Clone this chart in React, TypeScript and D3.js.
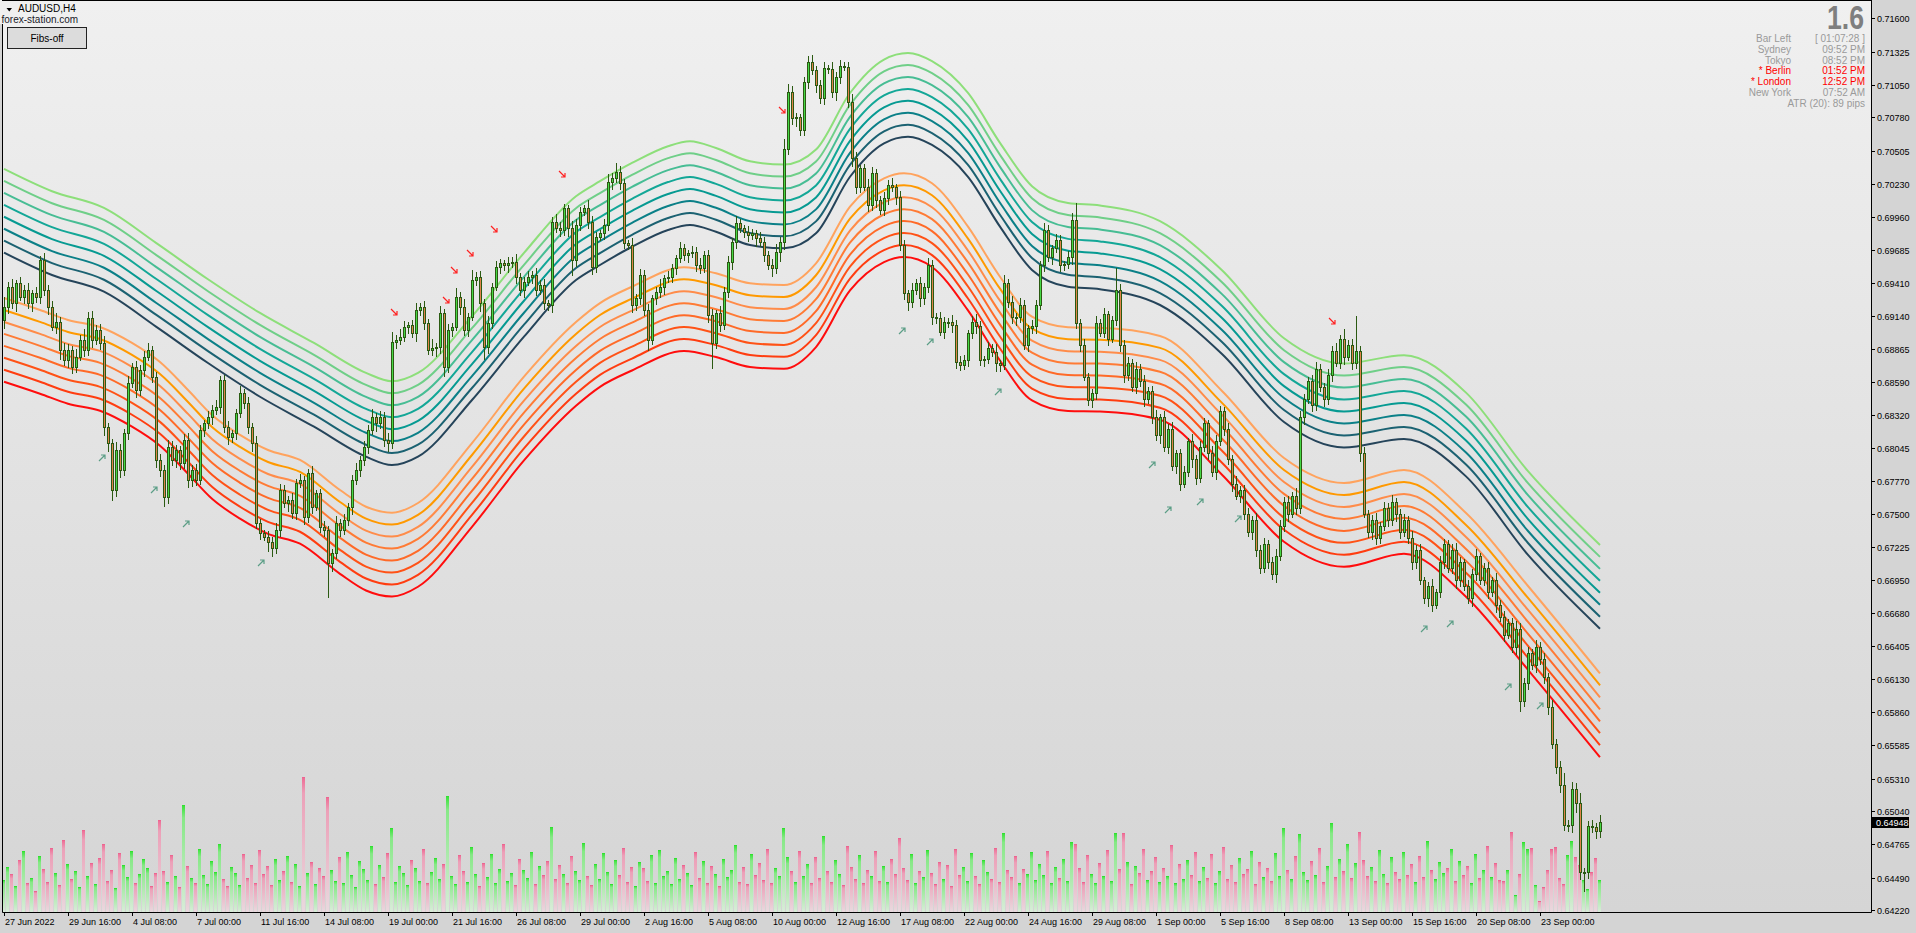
import React from "react";
import * as d3 from "d3";

// ---------------- DATA ----------------
const firstOpen = 0.691;
const closes = [
  0.69214, 0.69379, 0.69241, 0.69407, 0.69296, 0.69352, 0.69241, 0.69324, 0.69296, 0.696,
  0.69352, 0.69214, 0.69048, 0.6909, 0.68855, 0.68772, 0.68855, 0.68717, 0.688, 0.68938,
  0.68855, 0.69117, 0.68938, 0.69021, 0.6891, 0.68221, 0.68083, 0.67697, 0.68028, 0.67862,
  0.68166, 0.68579, 0.68717, 0.68524, 0.6869, 0.688, 0.68855, 0.68635, 0.67945, 0.67862,
  0.67642, 0.68055, 0.67945, 0.68028, 0.67917, 0.68111, 0.6778, 0.67862, 0.6778, 0.68193,
  0.68248, 0.68304, 0.68359, 0.68386, 0.68607, 0.68221, 0.68138, 0.68166, 0.68331, 0.68497,
  0.68414, 0.68221, 0.68083, 0.67421, 0.67338, 0.67311, 0.67269, 0.67214, 0.67366, 0.67697,
  0.67587, 0.67614, 0.67504, 0.67752, 0.6778, 0.67476, 0.67835, 0.67559, 0.67669, 0.67393,
  0.67366, 0.6709, 0.67173, 0.67421, 0.67366, 0.67449, 0.67559, 0.6778, 0.67862, 0.67945,
  0.68055, 0.68193, 0.68304, 0.68248, 0.68304, 0.68111, 0.68083, 0.68924, 0.68938, 0.68966,
  0.69048, 0.6906, 0.68993, 0.69186, 0.69214, 0.69076, 0.68855, 0.6887, 0.68883, 0.69159,
  0.68717, 0.69021, 0.69048, 0.69296, 0.69214, 0.69021, 0.69131, 0.69434, 0.69462, 0.69241,
  0.68883, 0.69076, 0.69379, 0.69545, 0.69572, 0.69559, 0.69572, 0.69586, 0.69462, 0.69352,
  0.69421, 0.69462, 0.69476, 0.69352, 0.69393, 0.69241, 0.69228, 0.69917, 0.69862, 0.69848,
  0.70027, 0.69862, 0.696, 0.69889, 0.7, 0.70027, 0.69917, 0.69545, 0.69793, 0.6982,
  0.69889, 0.70248, 0.70276, 0.70331, 0.70234, 0.69738, 0.69724, 0.69228, 0.69283, 0.69476,
  0.69186, 0.68938, 0.69283, 0.69338, 0.69379, 0.69448, 0.69462, 0.69531, 0.69614, 0.69696,
  0.69641, 0.69655, 0.69669, 0.69559, 0.69531, 0.69641, 0.69145, 0.6891, 0.69159, 0.69062,
  0.69338, 0.69586, 0.69752, 0.69903, 0.69862, 0.69834, 0.69807, 0.6982, 0.69779, 0.69752,
  0.69641, 0.69559, 0.69531, 0.69669, 0.69752, 0.70519, 0.70993, 0.70772, 0.7078, 0.70676,
  0.71076, 0.71235, 0.71172, 0.71048, 0.70938, 0.71186, 0.7118, 0.70987, 0.71117, 0.71205,
  0.712, 0.7091, 0.70441, 0.70207, 0.70358, 0.70207, 0.70055, 0.70317, 0.70096, 0.70014,
  0.7011, 0.70221, 0.70201, 0.70124, 0.69724, 0.69324, 0.69255, 0.69352, 0.69407, 0.69283,
  0.69379, 0.69559, 0.69131, 0.69117, 0.69007, 0.6909, 0.69085, 0.69062, 0.68759, 0.68731,
  0.68773, 0.68993, 0.6909, 0.69054, 0.68773, 0.68778, 0.68869, 0.68842, 0.68745, 0.68731,
  0.69407, 0.69255, 0.69131, 0.69125, 0.69228, 0.68897, 0.69035, 0.69054, 0.69228, 0.69559,
  0.69848, 0.69628, 0.69697, 0.69765, 0.69559, 0.69565, 0.69628, 0.69931, 0.69076, 0.68897,
  0.68635, 0.68442, 0.68497, 0.69076, 0.69, 0.6915, 0.6895, 0.691, 0.6935, 0.689,
  0.6865, 0.6875, 0.6855, 0.687, 0.686, 0.6845, 0.6852, 0.683, 0.6815, 0.683,
  0.6805, 0.682, 0.679, 0.68, 0.6775, 0.6785, 0.681, 0.6795, 0.678, 0.6805,
  0.6825, 0.68, 0.6785, 0.681, 0.6835, 0.682, 0.6795, 0.6775, 0.6765, 0.677,
  0.675, 0.6735, 0.6745, 0.672, 0.6705, 0.6725, 0.671, 0.67, 0.6715, 0.674,
  0.676, 0.675, 0.6765, 0.6755, 0.683, 0.6845, 0.686, 0.684, 0.687, 0.6855,
  0.6845, 0.6865, 0.6885, 0.6875, 0.6895, 0.688, 0.689, 0.6875, 0.6885, 0.68,
  0.675, 0.6735, 0.6745, 0.673, 0.674, 0.6755, 0.6745, 0.676, 0.675, 0.6735,
  0.6745, 0.673, 0.671, 0.672, 0.6695, 0.668, 0.669, 0.6675, 0.6685, 0.671,
  0.6725, 0.6705, 0.672, 0.6695, 0.671, 0.669, 0.668, 0.67, 0.6715, 0.6695,
  0.6705, 0.6685, 0.6695, 0.6675, 0.6665, 0.665, 0.666, 0.664, 0.6655, 0.6595,
  0.661, 0.6635, 0.6625, 0.664, 0.663, 0.6615, 0.659, 0.656, 0.65403, 0.65257,
  0.64926, 0.64926, 0.65221, 0.65111, 0.6454, 0.6454, 0.64918, 0.6491, 0.64879, 0.64948,
];
// wick lengths in pips (0.0001)
const upWick = [
  8,4,6,3,5,4,6,3,5,3, 6,4,5,7,4,6,5,3,6,4,
  9,5,6,4,5,6,3,4,7,5, 4,6,3,5,4,5,6,3,4,5,
  4,6,5,4,3,5,6,4,5,4, 3,5,4,6,3,4,5,3,4,6,
  4,5,3,6,4,3,5,4,6,5, 4,3,6,4,5,3,4,6,3,4,
  5,3,4,6,4,5,3,4,6,3, 5,4,6,3,5,4,6,8,4,6,
  5,3,4,6,3,5,4,8,3,6, 4,5,3,7,4,6,3,8,4,5,
  4,6,3,5,4,3,5,4,6,3, 4,5,3,6,4,5,3,4,6,5,
  4,3,6,5,4,3,7,5,4,3, 5,6,4,7,5,4,3,6,4,5,
  4,5,3,4,6,3,5,4,3,5, 4,3,5,4,6,3,4,5,3,6,
  4,5,3,6,4,3,5,4,3,5, 4,3,5,6,4,8,6,5,4,3,
  4,5,6,3,4,5,3,6,4,5, 3,4,6,5,3,4,6,5,4,3,
  5,4,6,3,5,4,3,6,4,5, 3,6,4,3,5,4,3,6,4,5,
  4,3,5,6,4,3,5,4,6,3, 7,4,5,3,6,4,3,5,4,3,
  6,4,3,5,4,3,5,6,14,4, 5,3,4,6,4,5,3,4,18,5,
  4,5,3,6,4,5,3,4,6,3, 5,4,6,3,4,5,3,6,4,5,
  4,3,6,5,4,3,5,4,6,3, 4,5,3,6,4,5,3,4,6,5,
  4,5,3,6,5,4,3,5,6,4, 3,5,4,6,3,8,4,5,29,4,
  5,3,4,6,3,5,4,6,3,4, 5,3,6,4,5,3,4,6,3,5,
  4,3,5,6,4,3,5,4,6,3, 4,5,3,6,4,5,3,4,6,5,
  4,5,3,6,4,5,3,6,4,5, 10,4,6,5,8,3,4,5,3,6,
];
const dnWick = [
  6,5,4,6,3,5,4,6,4,5, 4,6,3,5,7,4,6,5,4,3,
  5,4,6,3,5,7,6,8,5,6, 4,5,3,6,4,5,3,4,6,5,
  8,5,4,6,5,4,6,5,4,3, 5,4,6,3,5,4,6,4,5,3,
  4,5,6,4,5,3,8,6,4,5, 3,6,4,5,3,6,4,5,3,4,
  5,28,6,4,5,3,4,6,3,5, 4,5,3,6,4,5,6,4,5,3,
  4,5,3,6,4,5,3,4,6,5, 8,4,5,3,6,4,5,3,4,6,
  10,5,4,3,5,4,6,3,5,4, 6,3,5,4,3,5,4,6,3,5,
  4,6,12,5,4,3,5,6,4,3, 5,4,6,3,5,4,3,6,4,5,
  4,8,3,5,4,6,3,4,5,3, 4,6,3,5,4,3,6,20,4,5,
  3,4,6,5,3,4,5,3,6,4, 5,3,6,4,8,6,4,5,6,4,
  4,5,3,6,4,5,3,4,6,5, 3,4,6,5,4,3,5,4,6,3,
  4,5,3,6,4,5,7,4,3,6, 5,4,6,4,3,5,4,6,5,4,
  3,5,4,6,4,5,3,4,6,5, 3,4,5,6,4,3,5,4,6,3,
  5,4,6,3,5,4,3,6,4,5, 3,4,6,5,3,4,5,3,4,5,
  6,4,3,5,4,6,3,5,4,6, 3,5,4,6,5,3,4,6,5,4,
  3,5,4,6,3,5,4,6,3,5, 4,3,6,5,4,3,5,4,6,3,
  4,6,3,5,4,6,3,5,4,3, 6,4,5,3,4,6,3,5,4,6,
  3,4,6,5,4,3,5,4,6,5, 3,4,6,5,3,4,6,5,3,4,
  5,3,4,6,5,3,4,6,5,3, 4,5,3,6,4,5,3,4,6,8,
  4,5,3,6,4,5,6,4,5,6, 4,5,6,8,6,16,5,4,6,5,
];
const volumes = [
  3200,4500,3800,2600,5200,6100,2900,3400,2100,5600, 4300,3000,6400,3900,2700,7200,4800,3300,4100,2500,
  8200,3600,4900,2800,5400,6800,3100,4200,2400,5900, 4700,3500,6100,2900,3800,5300,4400,2600,3900,9200,
  4100,3000,5700,3600,2500,10700,4600,3400,2900,6300, 3700,2800,5100,4000,6800,3300,2600,4500,3900,2700,
  5800,3400,4700,2900,6200,3800,4600,2700,5300,3200, 4100,5600,3000,4800,2600,13500,3900,5000,2800,4400,
  3600,11500,4200,3100,5500,2900,6000,3700,2500,5100, 4300,3200,6600,2800,4700,3500,5900,8400,3000,4600,
  3900,2700,5200,4400,3100,6300,2900,4000,5400,3300, 4800,11600,3600,2800,5700,4100,3000,6500,3800,2600,
  4900,3500,5800,2900,4300,6800,3100,3900,2700,5300, 4200,3400,6000,2800,4600,3700,5100,8500,3300,4700,
  3800,2900,5600,4100,3200,6900,3600,2700,4800,3300, 5900,4000,2800,5200,3700,6400,3000,4500,2600,5000,
  4400,3100,5700,2900,6200,3600,4100,2800,5400,3300, 4700,3900,2700,6000,3400,5100,2900,4600,3800,2600,
  5300,3500,4200,6700,3000,4500,2800,5800,3700,4900, 3200,6300,2900,4400,3600,8400,5500,4100,3000,6100,
  3600,4800,2900,5500,3400,7600,4100,3000,5200,3800, 2700,6600,4500,3300,5700,2900,4200,3600,6100,3100,
  4600,3000,5300,3800,7400,4400,3200,5800,2900,4100, 3500,6200,3900,2800,5000,3300,4700,2600,6300,3700,
  4500,3100,5900,3600,2800,5200,4000,3300,6400,3000, 7900,4200,3500,5600,2900,4300,3800,6000,3200,4800,
  3700,6100,2900,4500,3400,5300,3100,7000,6800,4400, 3000,5700,3800,2900,4900,3600,6200,3100,7900,4300,
  7900,5000,2800,4600,3900,6300,3200,4100,5500,3000, 4400,3600,6700,2900,4800,3300,5200,3700,6000,3100,
  4500,3400,5800,2900,4100,6500,3300,4700,3000,5400, 3800,4300,6100,2800,5000,3500,4400,3100,5900,3600,
  8400,4200,3300,5600,7800,4000,3200,5100,3700,6400, 3000,4600,8900,3500,5300,4100,6800,3400,4900,8000,
  5200,3600,4500,3100,6200,3800,2900,5500,4000,3300, 6000,3700,4800,3000,5600,3500,7100,4200,3300,5000,
  3900,4400,6300,3100,5100,3700,4600,2900,5800,3400, 4200,6600,3500,4900,3200,3100,4200,8000,1700,3800,
  7000,6300,6400,2700,1100,2500,4200,6300,6500,3400, 2800,5700,7100,5500,4700,3200,2300,4000,5400,3200,
];

// Fibonacci band inner lines: [bar index, price]
const upperInner = [
  [0,0.69661],[12,0.69476],[25,0.69338],[38,0.69049],[51,0.68748],[64,0.68469],[77.5,0.68221],
  [90.5,0.67973],[97,0.67904],[103.5,0.67973],[117,0.68442],[130,0.68966],[143,0.69435],[149,0.69559],
  [157,0.6971],[166,0.69849],[171.5,0.6989],[178,0.69834],[186.5,0.69724],[195,0.69697],[203,0.69821],
  [211.5,0.70289],[220,0.70566],[226,0.7062],[232,0.70552],[241,0.70289],[249,0.69876],[257,0.69518],
  [266,0.69379],[274,0.69358],[289,0.69228],[304.5,0.68823],[320,0.6826],[335,0.6805],[350,0.6812],
  [365.5,0.6781],[381,0.6716],[399,0.6655],
];
const lowerInner = [
  [0,0.69286],[9,0.69187],[16,0.69104],[24,0.69046],[32,0.68914],[39,0.68756],[46,0.68525],[52,0.68318],
  [59,0.68153],[66,0.68028],[74,0.67946],[84,0.67697],[90.5,0.67559],[97,0.6751],[103.5,0.6759],
  [117,0.68086],[130,0.68635],[143,0.69087],[149,0.69244],[157,0.69379],[170,0.6954],[178,0.6949],
  [186.5,0.69408],[195,0.69393],[203,0.69573],[211.5,0.70041],[220,0.70276],[225,0.70318],[232,0.70235],
  [241,0.69876],[249,0.69462],[257,0.69131],[266,0.69044],[274,0.6904],[289,0.68972],[304.5,0.68517],
  [320,0.67962],[335,0.67755],[350,0.67863],[365.5,0.67507],[381,0.66903],[399,0.6618],
];
const bandStep = 0.00099;
const upperColors = ["#25445a", "#1b6272", "#0b8088", "#069a92", "#13a797", "#47bd94", "#6fcf88", "#8ddf7a"];
const lowerColors = ["#ffa35e", "#ff9900", "#ff8c4a", "#ff7b35", "#ff6a28", "#ff5216", "#ff3d10", "#ff0d0d"];

const priceTicks = [
  0.716, 0.71325, 0.7105, 0.7078, 0.70505, 0.7023, 0.6996, 0.69685, 0.6941, 0.6914, 0.68865, 0.6859,
  0.6832, 0.68045, 0.6777, 0.675, 0.67225, 0.6695, 0.6668, 0.66405, 0.6613, 0.6586, 0.65585, 0.6531,
  0.6504, 0.64765, 0.6449, 0.6422,
];
const timeLabels = [
  "27 Jun 2022", "29 Jun 16:00", "4 Jul 08:00", "7 Jul 00:00", "11 Jul 16:00", "14 Jul 08:00",
  "19 Jul 00:00", "21 Jul 16:00", "26 Jul 08:00", "29 Jul 00:00", "2 Aug 16:00", "5 Aug 08:00",
  "10 Aug 00:00", "12 Aug 16:00", "17 Aug 08:00", "22 Aug 00:00", "24 Aug 16:00", "29 Aug 08:00",
  "1 Sep 00:00", "5 Sep 16:00", "8 Sep 08:00", "13 Sep 00:00", "15 Sep 16:00", "20 Sep 08:00",
  "23 Sep 00:00",
];
const barsPerLabel = 16;

const greenArrows = [
  [24.5, 0.6797], [37.5, 0.67706], [45.5, 0.67424], [64.25, 0.67102], [224.5, 0.69021], [231.5, 0.6893],
  [248.5, 0.68516], [287, 0.67913], [291, 0.67539], [299, 0.67606], [308.5, 0.67466], [355, 0.66558],
  [361.5, 0.66598], [376, 0.66074], [384, 0.65919],
];
const redArrows = [
  [97.5, 0.69162], [110.5, 0.69261], [112.5, 0.69509], [116.5, 0.6965], [122.5, 0.69848], [139.5, 0.70304],
  [194.5, 0.70833], [332, 0.69087],
];

const sessionRows = [
  { name: "Bar Left", value: "[ 01:07:28 ]", hot: false },
  { name: "Sydney", value: "09:52 PM", hot: false },
  { name: "Tokyo", value: "08:52 PM", hot: false },
  { name: "* Berlin", value: "01:52 PM", hot: true },
  { name: "* London", value: "12:52 PM", hot: true },
  { name: "New York", value: "07:52 AM", hot: false },
];
const spreadText = "1.6";
const atrText = "ATR (20): 89 pips";
const lastPrice = 0.64948;

// ---------------- CHART ----------------
const W = 1916;
const H = 933;
const PLOT_R = 1871;
const PLOT_B = 912;
const FONT = "'Liberation Sans', Arial, sans-serif";

export default function App() {
  const n = closes.length;
  const x = d3.scaleLinear().domain([0, n - 1]).range([4, 4 + 4 * (n - 1)]);
  const y = d3.scaleLinear().domain([0.6422, 0.716]).range([910.3, 18.3]);
  const vy = d3.scaleLinear().domain([0, 14000]).range([PLOT_B, PLOT_B - 140]);

  const lineGen = d3
    .line<[number, number]>()
    .x((d) => x(d[0]))
    .y((d) => y(d[1]))
    .curve(d3.curveMonotoneX);

  const candles = closes.map((c, i) => {
    const o = i === 0 ? firstOpen : closes[i - 1];
    const hi = Math.max(o, c) + upWick[i] * 0.0001;
    const lo = Math.min(o, c) - dnWick[i] * 0.0001;
    return { i, o, c, hi, lo, bull: c >= o };
  });

  const wickColor = "#2b5a12";

  return (
    <svg
      width={W}
      height={H}
      style={{ position: "absolute", left: 0, top: 0, display: "block" }}
      fontFamily={FONT}
    >
      <defs>
        <linearGradient id="bgGrad" x1="0" y1="0" x2="0" y2="1">
          <stop offset="0" stopColor="#f0f0f0" />
          <stop offset="1" stopColor="#d5d5d5" />
        </linearGradient>
        <linearGradient id="volBull" x1="0" y1="0" x2="0" y2="1">
          <stop offset="0" stopColor="#36e236" />
          <stop offset="0.12" stopColor="#86e886" />
          <stop offset="1" stopColor="#d9ecd9" />
        </linearGradient>
        <linearGradient id="volBear" x1="0" y1="0" x2="0" y2="1">
          <stop offset="0" stopColor="#ee6a94" />
          <stop offset="0.12" stopColor="#eca0b8" />
          <stop offset="1" stopColor="#e9d9de" />
        </linearGradient>
        <clipPath id="plotClip">
          <rect x={2} y={0} width={PLOT_R - 2} height={PLOT_B} />
        </clipPath>
      </defs>
      <rect x={0} y={0} width={W} height={H} fill="#d4d4d4" />
      <rect x={2} y={0} width={PLOT_R - 2} height={PLOT_B} fill="url(#bgGrad)" />
      <rect x={0} y={0} width={3} height={24} fill="#f0f0f0" />

      <g clipPath="url(#plotClip)">
        {/* volume */}
        {candles.map((d) => {
          const cx = Math.round(x(d.i));
          const top = Math.round(vy(volumes[d.i]));
          return (
            <g key={"v" + d.i}>
              <rect x={cx - 2} y={top} width={3} height={PLOT_B - top} fill={d.bull ? "url(#volBull)" : "url(#volBear)"} />
              <rect x={cx - 2} y={top} width={3} height={1} fill={d.bull ? "#30e030" : "#ec6590"} />
            </g>
          );
        })}

        {/* bands */}
        {upperColors.map((col, k) => (
          <path
            key={"u" + k}
            d={lineGen(upperInner.map((p) => [p[0], p[1] + k * bandStep] as [number, number])) || ""}
            fill="none"
            stroke={col}
            strokeWidth={2}
          />
        ))}
        {lowerColors.map((col, k) => (
          <path
            key={"l" + k}
            d={lineGen(lowerInner.map((p) => [p[0], p[1] - k * bandStep] as [number, number])) || ""}
            fill="none"
            stroke={col}
            strokeWidth={2}
          />
        ))}

        {/* candles */}
        {candles.map((d) => {
          const cx = Math.round(x(d.i));
          const yTop = Math.round(y(Math.max(d.o, d.c)));
          const yBot = Math.round(y(Math.min(d.o, d.c)));
          const h = Math.max(1, yBot - yTop);
          return (
            <g key={"c" + d.i}>
              <line x1={cx + 0.5} x2={cx + 0.5} y1={Math.round(y(d.hi))} y2={Math.round(y(d.lo)) + 1} stroke={wickColor} strokeWidth={1} />
              <rect x={cx - 1} y={yTop} width={3} height={h + 1} fill={wickColor} />
              {h > 1 && <rect x={cx} y={yTop + 1} width={1} height={h - 1} fill={d.bull ? "#46d846" : "#e0834a"} />}
            </g>
          );
        })}

        {/* arrows */}
        {greenArrows.map(([b, p], i) => {
          const ax = Math.round(x(b));
          const ay = Math.round(y(p));
          return (
            <path
              key={"ga" + i}
              d={`M${ax - 3},${ay + 4}L${ax + 3},${ay - 2}M${ax - 1},${ay - 2}L${ax + 3},${ay - 2}L${ax + 3},${ay + 2}`}
              fill="none"
              stroke="#5b9e86"
              strokeWidth={1.2}
            />
          );
        })}
        {redArrows.map(([b, p], i) => {
          const ax = Math.round(x(b));
          const ay = Math.round(y(p));
          return (
            <path
              key={"ra" + i}
              d={`M${ax - 3},${ay - 4}L${ax + 3},${ay + 2}M${ax - 1},${ay + 2}L${ax + 3},${ay + 2}L${ax + 3},${ay - 2}`}
              fill="none"
              stroke="#ff2020"
              strokeWidth={1.2}
            />
          );
        })}
      </g>

      {/* frame */}
      <path d={`M2.5,24V${PLOT_B + 0.5}H${PLOT_R + 0.5}V0`} fill="none" stroke="#000" strokeWidth={1} />
      <line x1={2} x2={PLOT_R} y1={0.5} y2={0.5} stroke="#000" />

      {/* price axis */}
      {priceTicks.map((t) => {
        const ty = Math.round(y(t));
        return (
          <g key={"pt" + t}>
            <line x1={PLOT_R} x2={PLOT_R + 4} y1={ty + 0.5} y2={ty + 0.5} stroke="#000" />
            <text x={PLOT_R + 6} y={ty + 3.5} fontSize={9} fill="#000">
              {t.toFixed(5)}
            </text>
          </g>
        );
      })}
      {(() => {
        const ly = Math.round(y(lastPrice));
        return (
          <g>
            <rect x={PLOT_R + 1} y={ly - 5} width={37} height={11} fill="#000" />
            <text x={PLOT_R + 5} y={ly + 3.5} fontSize={9} fill="#fff">
              {lastPrice.toFixed(5)}
            </text>
          </g>
        );
      })()}

      {/* time axis */}
      {timeLabels.map((lab, k) => {
        const tx = Math.round(x(k * barsPerLabel));
        return (
          <g key={"tl" + k}>
            <line x1={tx + 0.5} x2={tx + 0.5} y1={PLOT_B} y2={PLOT_B + 4} stroke="#000" />
            <text x={tx + 1} y={925} fontSize={9} fill="#000">
              {lab}
            </text>
          </g>
        );
      })}

      {/* top-left labels */}
      <path d="M6.5,8L12,8L9.25,11.5Z" fill="#000" />
      <text x={18} y={12} fontSize={10} fill="#000">AUDUSD,H4</text>
      <text x={1.5} y={22.5} fontSize={10} fill="#1a1a2a">forex-station.com</text>
      <rect x={7.5} y={27.5} width={79} height={21} fill="#dcdcdc" stroke="#222" strokeWidth={1} />
      <text x={47} y={41.5} fontSize={10} textAnchor="middle" fill="#000">Fibs-off</text>

      {/* info panel */}
      <text
        x={1864}
        y={29}
        fontSize={33}
        fontWeight="bold"
        fill="#7f7f7f"
        textAnchor="end"
        textLength={37}
        lengthAdjust="spacingAndGlyphs"
      >
        {spreadText}
      </text>
      {sessionRows.map((r, k) => {
        const by = 42 + k * 10.8;
        const col = r.hot ? "#ff0000" : "#9a9a9a";
        return (
          <g key={"sr" + k}>
            <text x={1791} y={by} fontSize={10} fill={col} textAnchor="end">{r.name}</text>
            <text x={1865} y={by} fontSize={10} fill={col} textAnchor="end">{r.value}</text>
          </g>
        );
      })}
      <text x={1865} y={42 + 6 * 10.8} fontSize={10} fill="#9a9a9a" textAnchor="end">{atrText}</text>
    </svg>
  );
}
